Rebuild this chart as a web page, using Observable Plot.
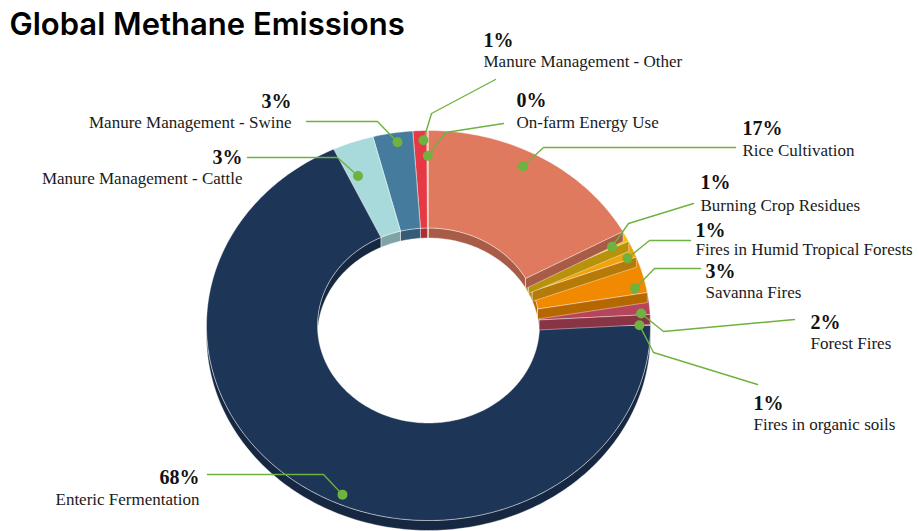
<!DOCTYPE html>
<html>
<head>
<meta charset="utf-8">
<script src="https://cdn.jsdelivr.net/npm/d3@7"></script>
<script src="https://cdn.jsdelivr.net/npm/@observablehq/plot@0.6"></script>
<style>
  html, body { margin: 0; padding: 0; background: #fff; }
</style>
</head>
<body>
<div id="chart"></div>
<script>
// ---------- DATA ----------
const title = "Global Methane Emissions";
const categories = [
  "Rice Cultivation",
  "Burning Crop Residues",
  "Fires in Humid Tropical Forests",
  "Savanna Fires",
  "Forest Fires",
  "Fires in organic soils",
  "Enteric Fermentation",
  "Manure Management - Cattle",
  "Manure Management - Swine",
  "Manure Management - Other",
  "On-farm Energy Use"
];
const shares = [17.0, 0.9, 1.4, 3.0, 1.8, 0.9, 68.0, 3.0, 2.9, 1.0, 0.1];
const colors = [
  "#e07a5f", "#f4c20d", "#f2a20c", "#f18a00", "#b5455a", "#9b2c3f",
  "#1d3557", "#a8dadc", "#457b9d", "#e63946", "#e9c46a"
];

// ---------- LAYOUT ----------
const W = 919, H = 531;
const P = {cx: 428, cy: 325, rx: 222, ry: 195, inner: 0.5, depth: 10};
// label placement: t = position inside slice, k = radius fraction for the dot
const labelLayout = {
  "Rice Cultivation":               {t: 0.45, k: 0.92, anchor: "start", tx: 742, py: 128, ny: 150, elbow: [543, 147], end: [735, 147]},
  "Burning Crop Residues":          {t: 0.85, k: 0.92, anchor: "start", tx: 700, py: 182, ny: 205, elbow: [628, 223], end: [693, 203]},
  "Fires in Humid Tropical Forests":{t: 0.90, k: 0.96, anchor: "start", tx: 695, py: 230, ny: 249, elbow: [649, 240], end: [690, 240]},
  "Savanna Fires":                  {t: 0.83, k: 0.95, anchor: "start", tx: 705, py: 271, ny: 292, elbow: [654, 268], end: [700, 268]},
  "Forest Fires":                   {t: 0.93, k: 0.96, anchor: "start", tx: 810, py: 322, ny: 343, elbow: [663, 331], end: [794, 319]},
  "Fires in organic soils":         {t: 0.97, k: 0.95, anchor: "start", tx: 753, py: 403, ny: 424, elbow: [653, 352], end: [757, 384]},
  "Enteric Fermentation":           {t: 0.466, k: 0.95, anchor: "end", tx: 199, py: 477, ny: 499, elbow: [323, 474], end: [207, 474]},
  "Manure Management - Cattle":     {t: 0.25, k: 0.83, anchor: "end", tx: 242, py: 157, ny: 178, elbow: [337, 157], end: [247, 157]},
  "Manure Management - Swine":      {t: 0.57, k: 0.95, anchor: "end", tx: 291, py: 101, ny: 122, elbow: [377, 121], end: [306, 121]},
  "Manure Management - Other":      {t: 0.72, k: 0.95, anchor: "start", tx: 483, py: 40, ny: 61, elbow: [431, 113], end: [495, 79]},
  "On-farm Energy Use":             {t: 0.5, k: 0.87, anchor: "start", tx: 516, py: 100, ny: 122, elbow: [445, 132], end: [503, 123]}
};

// ---------- GEOMETRY (from data) ----------
const TAU = Math.PI * 2;
const total = d3.sum(shares);
let acc = 0;
const slices = categories.map((name, i) => {
  const a0 = acc / total * TAU;
  acc += shares[i];
  const a1 = acc / total * TAU;
  return {name, i, a0, a1, value: shares[i], color: colors[i]};
});

function pt(a, r, off) {
  return [P.cx + r * P.rx * Math.sin(a), P.cy - r * P.ry * Math.cos(a) + off];
}
function arc(a0, a1, r, off) {
  const n = Math.max(2, Math.ceil((a1 - a0) / (Math.PI / 180)) + 1);
  const out = [];
  for (let j = 0; j < n; j++) out.push(pt(a0 + (a1 - a0) * j / (n - 1), r, off));
  return out;
}
const polys = [];
let pid = 0;
function addPoly(points, fill) {
  const id = pid++;
  for (const [x, y] of points) polys.push({id, x, y, fill});
}
const dark = c => d3.color(c).darker(0.8).formatHex();

// 1. outer front wall (bottom half)
for (const s of slices) {
  const lo = Math.max(s.a0, Math.PI / 2), hi = Math.min(s.a1, 3 * Math.PI / 2);
  if (hi > lo) addPoly([...arc(lo, hi, 1, 0), ...arc(lo, hi, 1, P.depth).reverse()], dark(s.color));
}
// 2. inner back wall (upper half of the hole)
for (const s of slices) {
  for (const [L, R] of [[0, Math.PI / 2], [3 * Math.PI / 2, TAU]]) {
    const lo = Math.max(s.a0, L), hi = Math.min(s.a1, R);
    if (hi > lo) addPoly([...arc(lo, hi, P.inner, 0), ...arc(lo, hi, P.inner, P.depth).reverse()], dark(s.color));
  }
}
// 3. top faces of the left group
const sector = s => [...arc(s.a0, s.a1, 1, 0), ...arc(s.a0, s.a1, P.inner, 0).reverse()];
const rightGroup = slices.filter(s => s.a1 <= Math.PI / 2 + 1e-9);
const leftGroup = slices.filter(s => s.a1 > Math.PI / 2 + 1e-9);
for (const s of leftGroup) addPoly(sector(s), s.color);
// 4. right group, back to front, with visible end faces
for (const s of rightGroup.slice().reverse()) {
  addPoly(sector(s), s.color);
  if (s.a1 < Math.PI / 2 - 1e-6) {
    addPoly([pt(s.a1, P.inner, 0), pt(s.a1, 1, 0), pt(s.a1, 1, P.depth), pt(s.a1, P.inner, P.depth)], dark(s.color));
  }
}

// labels
const labels = slices.map(s => {
  const L = labelLayout[s.name];
  const a = s.a0 + (s.a1 - s.a0) * L.t;
  const [dx, dy] = pt(a, L.k, 0);
  return {...s, ...L, dx, dy, pct: Math.round(s.value) + "%"};
});
const leaders = labels.flatMap(d => [
  {id: d.name, x: d.dx, y: d.dy},
  {id: d.name, x: d.elbow[0], y: d.elbow[1]},
  {id: d.name, x: d.end[0], y: d.end[1]}
]);

const green = "#6fb23f";
const serif = "'Liberation Serif', 'DejaVu Serif', serif";
const textMarks = ["start", "end"].flatMap(anchor => {
  const sub = labels.filter(d => d.anchor === anchor);
  return [
    Plot.text(sub, {x: "tx", y: "py", text: "pct", textAnchor: anchor, fontFamily: serif, fontWeight: 700, fontSize: 20, lineAnchor: "middle", fill: "#111"}),
    Plot.text(sub, {x: "tx", y: "ny", text: "name", textAnchor: anchor, fontFamily: serif, fontSize: 17, lineAnchor: "middle", fill: "#1a1a1a"})
  ];
});

const chart = Plot.plot({
  width: W,
  height: H,
  margin: 0,
  x: {domain: [0, W], range: [0, W], axis: null},
  y: {domain: [0, H], range: [0, H], axis: null},
  color: {type: "identity"},
  style: {background: "#fff", overflow: "visible"},
  marks: [
    Plot.line(polys, {x: "x", y: "y", z: "id", fill: "fill", stroke: "#ffffff", strokeOpacity: 0.45, strokeWidth: 0.9, curve: "linear-closed"}),
    Plot.line(leaders, {x: "x", y: "y", z: "id", stroke: green, strokeWidth: 1.4}),
    Plot.dot(labels, {x: "dx", y: "dy", r: 5, fill: green}),
    ...textMarks,
    Plot.text([title], {frameAnchor: "top-left", dx: 9, dy: 12, lineAnchor: "top", text: d => d, fontFamily: "Inter, 'Noto Sans', sans-serif", fontWeight: 600, fontSize: 31, fill: "#000"})
  ]
});
document.getElementById("chart").append(chart);
</script>
</body>
</html>
